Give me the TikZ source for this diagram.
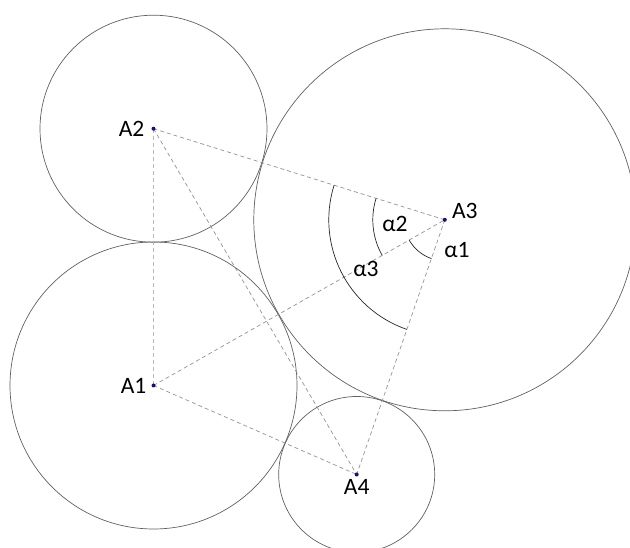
\documentclass[tikz,border=0pt]{standalone}
\usepackage{fontspec}
\setmainfont{Carlito}
\usepackage{tikz}
\usetikzlibrary{calc,positioning,angles}
\definecolor{dotblue}{RGB}{20,20,110}
\tikzstyle{ring}=[draw=gray!75!black,line width=0.7pt]
\tikzstyle{link}=[draw=gray!85,line width=0.7pt,dash pattern=on 4pt off 3pt]
\tikzstyle{lbl}=[inner sep=1pt,font=\fontsize{23.5}{26}\selectfont]
\tikzstyle{ang}=[draw=gray!30!black,line width=0.7pt]

\begin{document}
\begin{tikzpicture}[x=1pt,y=1pt]
    \clip (0,0) rectangle (630,547);
    \coordinate (A1) at (153.5,161.5);
    \coordinate (A2) at (153.5,418.3);
    \coordinate (A3) at (444.8,327.2);
    \coordinate (A4) at (356.7,72.5);

    \draw[ring] (A2) circle (113.5);
    \draw[ring] (A1) circle (143.5);
    \draw[ring] (A3) circle (191);
    \draw[ring] (A4) circle (78);

    \draw[link,draw=gray!55] (A2) -- (A1);
    \draw[link] (A2) -- (A3);
    \draw[link] (A2) -- (A4);
    \draw[link] (A1) -- (A3);
    \draw[link] (A1) -- (A4);
    \draw[link] (A3) -- (A4);

    \pic[ang,angle radius=41pt] {angle = A1--A3--A4};
    \pic[ang,angle radius=72pt] {angle = A2--A3--A1};
    \pic[ang,angle radius=116pt] {angle = A2--A3--A4};

    \foreach \p in {A1,A2,A3,A4}
      \fill[dotblue] (\p) circle (2);

    \node (lA1) [lbl,left=6pt of A1] {A1};
    \node (lA2) [lbl,left=8pt of A2] {A2};
    \node (lA3) [lbl,right=6pt of A3,yshift=9pt] {A3};
    \node (lA4) [lbl,below=4pt of A4] {A4};
    \node (la1) [lbl] at (457,296.5) {α1};
    \node (la2) [lbl] at (395,323) {α2};
    \node (la3) [lbl] at (366,278.3) {α3};
\end{tikzpicture}
\end{document}
